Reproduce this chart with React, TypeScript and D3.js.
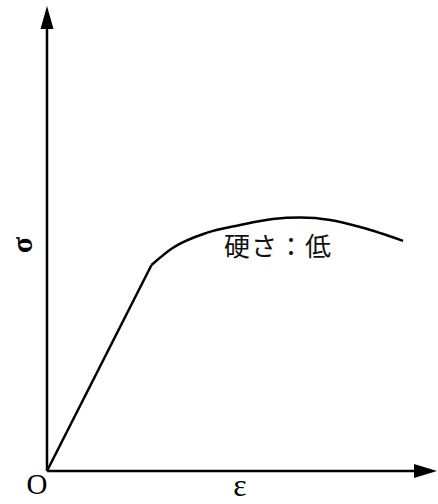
import React from "react";
import * as d3 from "d3";

// Stress-strain curve (arbitrary units 0-100)
const elasticStrain = [0, 26.8];
const elasticStress = [0, 44.3];
const plasticStrain = [26.8, 32.3, 40.9, 49.5, 57.9, 64.9, 72.6, 81.0, 91.3];
const plasticStress = [44.3, 48.0, 51.2, 52.9, 54.2, 54.5, 54.0, 52.3, 49.5];
const curveLabel = "硬さ：低";
const xAxisLabel = "ε";
const yAxisLabel = "σ";
const originLabel = "O";

const W = 438;
const H = 504;

export default function App() {
  const x = d3.scaleLinear().domain([0, 100]).range([47, 437]);
  const y = d3.scaleLinear().domain([0, 100]).range([471, 6]);

  const elastic = elasticStrain.map((e, i) => [e, elasticStress[i]] as [number, number]);
  const plastic = plasticStrain.map((e, i) => [e, plasticStress[i]] as [number, number]);

  const lineLin = d3
    .line<[number, number]>()
    .x((d) => x(d[0]))
    .y((d) => y(d[1]));
  const lineCurve = d3
    .line<[number, number]>()
    .x((d) => x(d[0]))
    .y((d) => y(d[1]))
    .curve(d3.curveMonotoneX);

  const x0 = x(0);
  const y0 = y(0);
  const xTip = x(100);
  const yTip = y(100);

  return (
    <svg
      width={W}
      height={H}
      style={{ position: "absolute", left: 0, top: 0, background: "#fff" }}
    >
      {/* axes */}
      <line x1={x0} y1={y0} x2={x0} y2={yTip + 18} stroke="#000" strokeWidth={2.5} />
      <line x1={x0} y1={y0} x2={xTip - 18} y2={y0} stroke="#000" strokeWidth={2.5} />
      <path
        d={`M${x0},${yTip} L${x0 - 6.5},${yTip + 23} L${x0 + 6.5},${yTip + 23} Z`}
        fill="#000"
      />
      <path
        d={`M${xTip},${y0} L${xTip - 23},${y0 - 7} L${xTip - 23},${y0 + 7} Z`}
        fill="#000"
      />
      {/* curve */}
      <path d={lineLin(elastic) || ""} fill="none" stroke="#000" strokeWidth={2.5} />
      <path
        d={lineCurve(plastic) || ""}
        fill="none"
        stroke="#000"
        strokeWidth={2.5}
        strokeLinejoin="round"
      />
      {/* labels */}
      <text
        x={37}
        y={494}
        textAnchor="middle"
        fontFamily="'Liberation Serif', 'Times New Roman', serif"
        fontSize={29}
        fill="#000"
      >
        {originLabel}
      </text>
      <text
        x={240}
        y={496}
        textAnchor="middle"
        fontFamily="'Liberation Serif', 'Times New Roman', serif"
        fontSize={32}
        fill="#000"
      >
        {xAxisLabel}
      </text>
      <text
        transform={`translate(${32},${245}) rotate(-90)`}
        textAnchor="middle"
        fontFamily="'Liberation Serif', 'Times New Roman', serif"
        fontSize={30}
        fontWeight="bold"
        fill="#000"
      >
        {yAxisLabel}
      </text>
      <text
        x={224}
        y={256}
        fontFamily="'Noto Sans CJK JP', sans-serif"
        fontSize={26}
        letterSpacing={1}
        fill="#111"
      >
        {curveLabel}
      </text>
    </svg>
  );
}
